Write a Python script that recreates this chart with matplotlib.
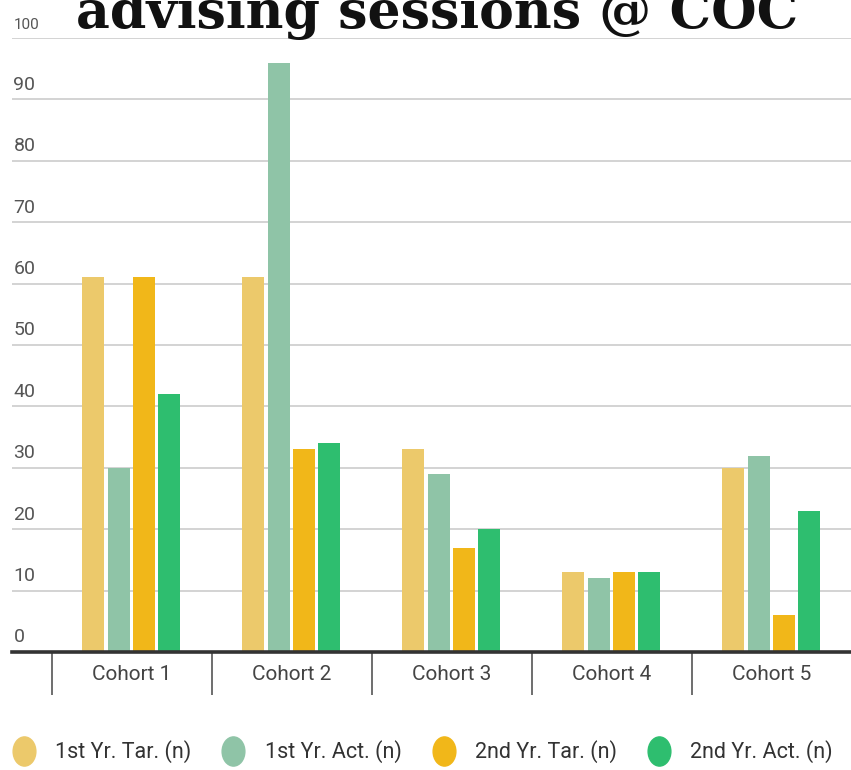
import matplotlib
matplotlib.use("Agg")
import matplotlib.pyplot as plt
import matplotlib.transforms as mtransforms
from matplotlib.path import Path
from matplotlib.markers import MarkerStyle
from matplotlib.lines import Line2D
import numpy as np

categories = ["Cohort 1", "Cohort 2", "Cohort 3", "Cohort 4", "Cohort 5"]
series_names = ["1st Yr. Tar. (n)", "1st Yr. Act. (n)", "2nd Yr. Tar. (n)", "2nd Yr. Act. (n)"]
first_tar = [61, 61, 33, 13, 30]
first_act = [30, 96, 29, 12, 32]
second_tar = [61, 33, 17, 13, 6]
second_act = [42, 34, 20, 13, 23]
y_ticks = [0, 10, 20, 30, 40, 50, 60, 70, 80, 90, 100]
title = "advising sessions @ COC"

colors = ["#ECC96B", "#8FC4A7", "#F1B719", "#2EBE6F"]
series = [first_tar, first_act, second_tar, second_act]

W, H = 851, 770
fig = plt.figure(figsize=(W / 100, H / 100), dpi=100)
ax_left, ax_right, ax_top, ax_bottom = 12, 851, 38, 652
ax = fig.add_axes([ax_left / W, 1 - ax_bottom / H, (ax_right - ax_left) / W, (ax_bottom - ax_top) / H])

x = np.arange(len(categories))
step = 0.158
width = 0.1375
for i, (vals, c) in enumerate(zip(series, colors)):
    ax.bar(x + (i - 1.5) * step - 0.005, vals, width=width, color=c, zorder=3)

ax.set_ylim(0, 100)
ax.set_xlim(-0.75, (ax_right - 132) / 160)

ax.set_yticks(y_ticks)
ax.yaxis.grid(True, color="#d3d3d3", lw=1.4, zorder=0)
ax.tick_params(axis="y", length=0, labelleft=False)
trans = mtransforms.blended_transform_factory(ax.transAxes, ax.transData)
for t in y_ticks:
    ax.annotate(str(t), xy=(0, t), xycoords=trans, xytext=(1, 4), textcoords="offset points",
                ha="left", va="bottom", fontsize=11 if t == 100 else 14,
                color="#555555", family="Roboto", clip_on=False)

ax.set_xticks(x)
ax.set_xticklabels(categories, family="Roboto", fontsize=15, color="#444444")
ax.tick_params(axis="x", which="major", length=0, pad=9)
ax.set_xticks([-0.5, 0.5, 1.5, 2.5, 3.5], minor=True)
ax.tick_params(axis="x", which="minor", length=31, width=1.2, color="#555555", direction="out")

for s in ["top", "left", "right"]:
    ax.spines[s].set_visible(False)
ax.spines["bottom"].set_color("#333333")
ax.spines["bottom"].set_linewidth(2.6)
ax.spines["bottom"].set_zorder(5)

fig.text(437 / W, 1 - 28 / H, title, ha="center", va="baseline", fontsize=37.5,
         family="DejaVu Serif", fontweight="bold", color="#111111")

circle = Path.unit_circle()
ellipse = circle.transformed(mtransforms.Affine2D().scale(0.78, 1.0))
handles = [Line2D([], [], ls="", marker=MarkerStyle(ellipse), markersize=21,
                  markerfacecolor=c, markeredgecolor=c) for c in colors]
leg = fig.legend(handles, series_names, loc="center", bbox_to_anchor=(0.497, 1 - 752 / H), ncol=4,
                 frameon=False, handlelength=1.0, handletextpad=0.95, columnspacing=1.45,
                 prop={"family": "Roboto", "size": 15.5})
for t in leg.get_texts():
    t.set_color("#333333")

fig.savefig("out.png", dpi=100)
